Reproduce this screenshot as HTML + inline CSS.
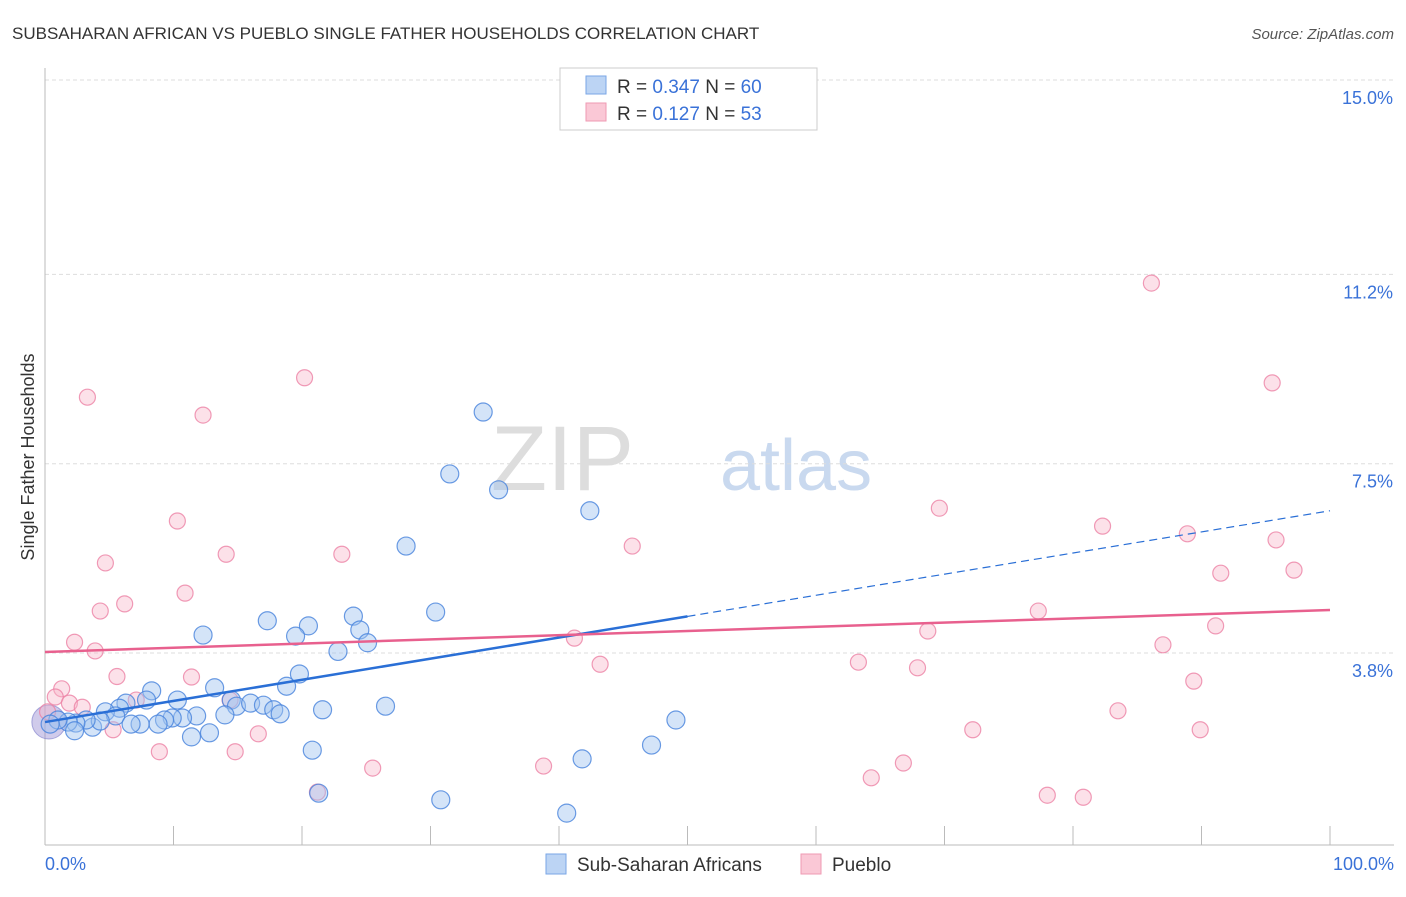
<!DOCTYPE html>
<html><head><meta charset="utf-8"><style>
body{margin:0;background:#fff;font-family:"Liberation Sans",sans-serif}
svg text{font-family:"Liberation Sans",sans-serif}
</style></head><body>
<svg id="chart" width="1406" height="892" xmlns="http://www.w3.org/2000/svg">
<text x="12" y="39" font-size="17" fill="#333">SUBSAHARAN AFRICAN VS PUEBLO SINGLE FATHER HOUSEHOLDS CORRELATION CHART</text>
<text x="1394" y="39" font-size="15" fill="#555" text-anchor="end" font-style="italic">Source: ZipAtlas.com</text>
<g>
<text x="634" y="490" font-size="92" fill="#ddd" text-anchor="end" font-family="Liberation Serif,serif">ZIP</text>
<text x="720" y="490" font-size="72" fill="#c9d9ef">atlas</text>
</g>
<g id="grid"></g>
<g id="axes"></g>
<g id="pts"></g>
<g id="trends"></g>
<text transform="translate(34,457) rotate(-90)" font-size="18" fill="#333" text-anchor="middle">Single Father Households</text>
<g>
<rect x="560" y="68" width="257" height="62" fill="#fff" stroke="#ccc"/>
<rect x="586" y="76" width="20" height="18" fill="#bcd4f4" stroke="#7aa6e6"/>
<rect x="586" y="103" width="20" height="18" fill="#fac8d6" stroke="#ef9ab3"/>
<text x="617" y="93" font-size="19" fill="#333">R = <tspan fill="#3a72d8">0.347</tspan>   N = <tspan fill="#3a72d8">60</tspan></text>
<text x="617" y="120" font-size="19" fill="#333">R =  <tspan fill="#3a72d8">0.127</tspan>   N =  <tspan fill="#3a72d8">53</tspan></text>
</g>
<g>
<rect x="546" y="854" width="20" height="20" fill="#bcd4f4" stroke="#7aa6e6"/>
<text x="577" y="871" font-size="19" fill="#333">Sub-Saharan Africans</text>
<rect x="801" y="854" width="20" height="20" fill="#fac8d6" stroke="#ef9ab3"/>
<text x="832" y="871" font-size="19" fill="#333">Pueblo</text>
</g>
</svg>
<script>
const yTicks=[3.8,7.5,11.2,15.0];
const yTickLabels=["3.8%","7.5%","11.2%","15.0%"];
const xTickLabels=["0.0%","100.0%"];
const blueX=[34.1,31.5,35.3,42.4,28.1,30.4,24.0,17.3,20.5,24.5,19.5,12.3,25.1,22.8,19.8,8.3,13.2,18.8,10.3,7.9,6.3,5.8,4.7,5.5,14.5,14.9,16.0,17.0,17.8,18.3,26.5,21.6,14.0,11.8,10.7,9.9,9.3,8.8,7.4,6.7,3.7,4.3,3.2,2.4,1.8,1.0,0.4,2.3,11.4,12.8,20.8,47.2,49.1,41.8,21.3,30.8,40.6];
const blueY=[8.51,7.30,6.99,6.58,5.89,4.60,4.52,4.43,4.33,4.25,4.13,4.15,4.0,3.83,3.39,3.06,3.12,3.15,2.88,2.88,2.82,2.72,2.65,2.57,2.88,2.76,2.82,2.78,2.69,2.61,2.76,2.69,2.59,2.57,2.53,2.53,2.49,2.41,2.41,2.41,2.35,2.47,2.49,2.43,2.45,2.49,2.41,2.28,2.16,2.24,1.90,2.0,2.49,1.73,1.06,0.93,0.67];
const pinkX=[86.1,20.2,95.5,3.3,12.3,10.3,69.6,82.3,88.9,95.8,45.7,23.1,14.1,4.7,91.5,97.2,10.9,6.2,4.3,77.3,91.1,68.7,41.2,2.3,3.9,87.0,63.3,43.2,67.9,5.6,11.4,89.4,1.3,0.8,1.9,2.9,7.1,14.4,0.2,83.5,5.3,16.6,72.2,89.9,8.9,14.8,25.5,38.8,66.8,64.3,21.2,78.0,80.8];
const pinkY=[11.03,9.18,9.08,8.80,8.45,6.38,6.63,6.28,6.13,6.01,5.89,5.73,5.73,5.56,5.36,5.42,4.97,4.76,4.62,4.62,4.33,4.23,4.09,4.01,3.84,3.96,3.62,3.58,3.51,3.34,3.33,3.25,3.10,2.94,2.82,2.74,2.88,2.88,2.65,2.67,2.30,2.22,2.30,2.30,1.87,1.87,1.55,1.59,1.65,1.36,1.08,1.02,0.98];
const blueTrend=[2.45,6.58]; // value at x=0 and x=100
const pinkTrend=[3.82,4.64];
const blueSolidEnd=50;
const NS="http://www.w3.org/2000/svg";
const X=v=>45+v*12.85, Y=v=>80+(15-v)*51.16;
function mk(p,t,a){const e=document.createElementNS(NS,t);for(const k in a)e.setAttribute(k,a[k]);document.getElementById(p).appendChild(e);return e;}
const gl=mk('grid','line',{x1:45,x2:1394,y1:Y(15),y2:Y(15),stroke:'#ddd','stroke-dasharray':'4,3'});


yTicks.forEach((t,i)=>{
 const l=mk('grid','line',{x1:45,x2:1394,y1:Y(t),y2:Y(t),stroke:'#ddd','stroke-dasharray':'4,3'});
 
 
 const tx=mk('axes','text',{x:1393,y:Y(t)+24,'font-size':18,fill:'#3a72d8','text-anchor':'end'});
 tx.textContent=yTickLabels[i];
 
 
});
const ax=mk('axes','line',{x1:45,x2:45,y1:68,y2:845,stroke:'#bbb'});


const bx=mk('axes','line',{x1:45,x2:1394,y1:845,y2:845,stroke:'#bbb'});


for(let k=0;k<=10;k++){const t=mk('axes','line',{x1:X(k*10),x2:X(k*10),y1:826,y2:845,stroke:'#bbb'});
 
 }
[[0,'start',45],[100,'end',1394]].forEach((d,i)=>{const t=mk('axes','text',{x:d[2],y:870,'font-size':18,fill:'#3a72d8','text-anchor':d[1]});t.textContent=xTickLabels[i];
 
 });
const big=mk('pts','circle',{cx:X(0.3),cy:Y(2.45),r:17,fill:'rgba(150,140,210,0.45)',stroke:'rgba(120,120,200,0.6)'});


pinkX.forEach((x,i)=>{const c=mk('pts','circle',{cx:X(x),cy:Y(pinkY[i]),r:8,fill:'rgba(248,180,200,0.4)',stroke:'rgba(236,130,165,0.8)','stroke-width':1.2});
 
 });
blueX.forEach((x,i)=>{const c=mk('pts','circle',{cx:X(x),cy:Y(blueY[i]),r:9,fill:'rgba(160,195,240,0.45)',stroke:'rgba(70,130,220,0.8)','stroke-width':1.2});
 
 });
const bt=v=>blueTrend[0]+(blueTrend[1]-blueTrend[0])*v/100;
const l1=mk('trends','line',{x1:X(0),y1:Y(bt(0)),x2:X(blueSolidEnd),y2:Y(bt(blueSolidEnd)),stroke:'#2a6fd6','stroke-width':2.5});


const l2=mk('trends','line',{x1:X(blueSolidEnd),y1:Y(bt(blueSolidEnd)),x2:X(100),y2:Y(bt(100)),stroke:'#2a6fd6','stroke-width':1.2,'stroke-dasharray':'8,5'});


const l3=mk('trends','line',{x1:X(0),y1:Y(pinkTrend[0]),x2:X(100),y2:Y(pinkTrend[1]),stroke:'#e8608e','stroke-width':2.5});


</script>
</body></html>
